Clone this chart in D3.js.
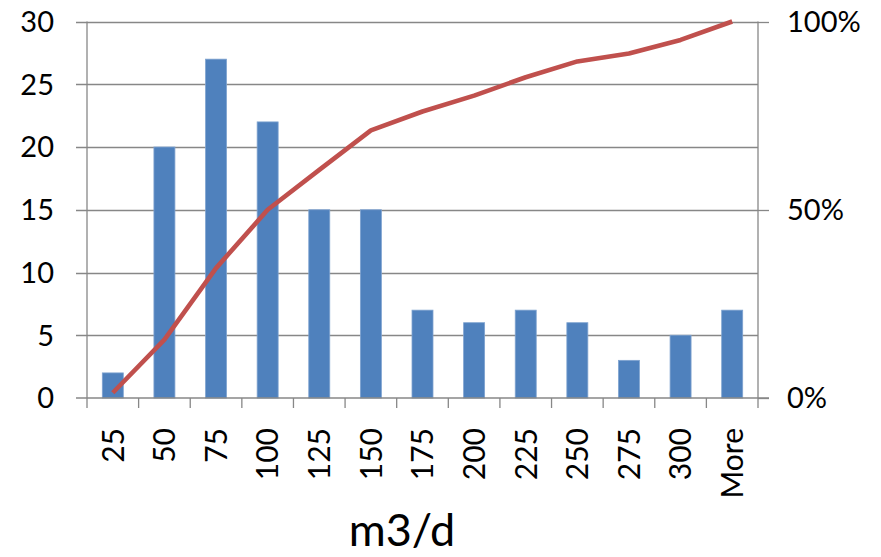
<!DOCTYPE html>
<meta charset="utf-8">
<style>
  body { margin: 0; background: #fff; }
  text { font-family: Lato, "Open Sans", sans-serif; fill: #000; }
</style>
<svg width="881" height="557"></svg>
<script src="https://d3js.org/d3.v7.min.js"></script>
<script>
// bins and counts
var bins = ["25", "50", "75", "100", "125", "150", "175", "200", "225", "250", "275", "300", "More"];
var counts = [2, 20, 27, 22, 15, 15, 7, 6, 7, 6, 3, 5, 7];
// cumulative share, in percent
var cumPct = [1.4, 15.5, 34.5, 50.0, 60.6, 71.1, 76.1, 80.3, 85.2, 89.4, 91.5, 95.1, 100];
var leftTicks = [0, 5, 10, 15, 20, 25, 30];
var rightTicks = [0, 50, 100];

var svg = d3.select("svg");
var plotLeft = 87, plotRight = 758, plotTop = 21.5, plotBottom = 398;

var band = d3.scaleBand().domain(bins).range([plotLeft, plotRight]);
var y = d3.scaleLinear().domain([0, 30]).range([plotBottom, plotTop]);
var y2 = d3.scaleLinear().domain([0, 100]).range([plotBottom, plotTop]);

// gridlines
svg.append("g").selectAll("line")
    .data(leftTicks.filter(function (d) { return d > 0; }))
    .enter().append("line")
    .attr("x1", plotLeft - 11).attr("x2", plotRight)
    .attr("y1", function (d) { return Math.round(y(d)) + 0.5; })
    .attr("y2", function (d) { return Math.round(y(d)) + 0.5; })
    .style("stroke", "#878787").style("stroke-width", 1.3);

// right ticks
svg.append("g").selectAll("line")
    .data(rightTicks)
    .enter().append("line")
    .attr("x1", plotRight).attr("x2", plotRight + 11)
    .attr("y1", function (d) { return Math.round(y2(d)) + 0.5; })
    .attr("y2", function (d) { return Math.round(y2(d)) + 0.5; })
    .style("stroke", "#878787").style("stroke-width", 1.3);

// bars
svg.append("g").selectAll("rect")
    .data(counts)
    .enter().append("rect")
    .attr("x", function (d, i) { return band(bins[i]) + band.bandwidth() / 2 - 10.5; })
    .attr("width", 21)
    .attr("y", function (d) { return y(d); })
    .attr("height", function (d) { return plotBottom - y(d); })
    .style("fill", "#4F81BD")
    .style("stroke", "#7FA3D0").style("stroke-width", 0.8);

// axis lines
svg.append("line").attr("x1", plotLeft).attr("x2", plotLeft).attr("y1", plotTop).attr("y2", plotBottom)
    .style("stroke", "#878787").style("stroke-width", 1.3);
svg.append("line").attr("x1", plotRight).attr("x2", plotRight).attr("y1", plotTop).attr("y2", plotBottom)
    .style("stroke", "#878787").style("stroke-width", 1.3);
svg.append("line").attr("x1", plotLeft - 11).attr("x2", plotRight + 11).attr("y1", plotBottom).attr("y2", plotBottom)
    .style("stroke", "#878787").style("stroke-width", 1.5);

// category tick marks at band edges
svg.append("g").selectAll("line")
    .data(bins.concat(["end"]))
    .enter().append("line")
    .attr("x1", function (d, i) { return i < bins.length ? band(d) : plotRight; })
    .attr("x2", function (d, i) { return i < bins.length ? band(d) : plotRight; })
    .attr("y1", plotBottom).attr("y2", plotBottom + 10)
    .style("stroke", "#878787").style("stroke-width", 1.3);

// cumulative line
var line = d3.line()
    .x(function (d, i) { return band(bins[i]) + band.bandwidth() / 2; })
    .y(function (d) { return y2(d); });
svg.append("path")
    .datum(cumPct)
    .attr("d", line)
    .style("fill", "none")
    .style("stroke", "#C0504D")
    .style("stroke-width", 4.6)
    .style("stroke-linejoin", "round");

// left labels
svg.append("g").selectAll("text")
    .data(leftTicks)
    .enter().append("text")
    .attr("x", 54)
    .attr("y", function (d) { return y(d); })
    .attr("dy", "0.36em")
    .attr("text-anchor", "end")
    .style("font-size", "29px")
    .text(function (d) { return d; });

// right labels
svg.append("g").selectAll("text")
    .data(rightTicks)
    .enter().append("text")
    .attr("x", 787)
    .attr("y", function (d) { return y2(d); })
    .attr("dy", "0.36em")
    .style("font-size", "29px")
    .text(function (d) { return d + "%"; });

// category labels
svg.append("g").selectAll("text")
    .data(bins)
    .enter().append("text")
    .attr("transform", function (d) {
        return "translate(" + (band(d) + band.bandwidth() / 2) + "," + 428 + ") rotate(-90)";
    })
    .attr("dy", "0.36em")
    .attr("text-anchor", "end")
    .style("font-size", "30px")
    .text(function (d) { return d; });

// axis title
svg.append("text")
    .attr("x", 402)
    .attr("y", 546)
    .attr("text-anchor", "middle")
    .style("font-size", "45px")
    .text("m3/d");
</script>
